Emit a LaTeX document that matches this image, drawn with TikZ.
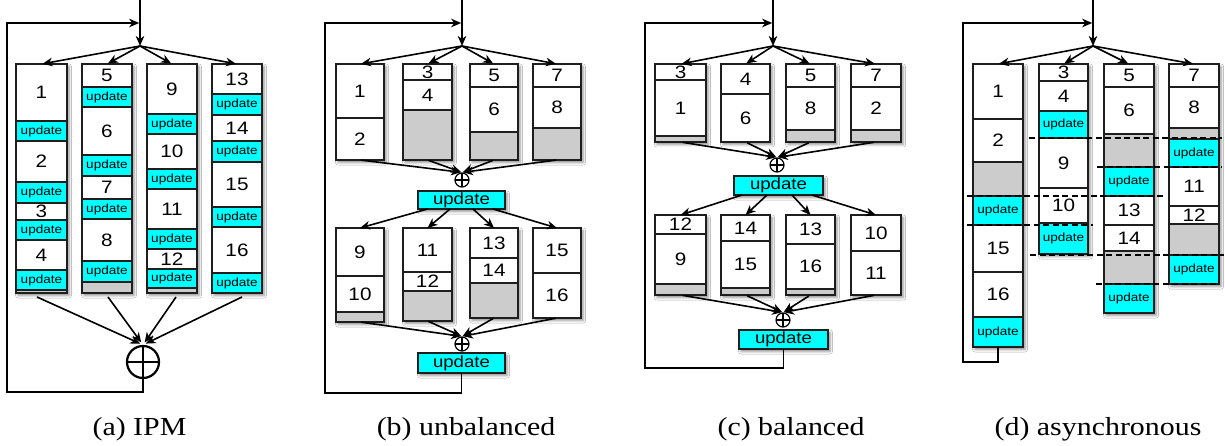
\documentclass[tikz,border=0pt]{standalone}
\usepackage{fontspec}
\usepackage{graphicx}
\setmainfont{Liberation Serif}[FakeStretch=1.15]
\newfontfamily\sansf{Liberation Sans}[FakeStretch=1.15]
\usetikzlibrary{arrows.meta,shadows.blur}
\definecolor{cy}{RGB}{0,255,255}
\definecolor{gr}{RGB}{204,204,204}
\definecolor{bd}{RGB}{30,30,30}
\newcommand\fnum{\sansf\fontsize{18}{18}\selectfont}
\newcommand\fupd{\sansf\fontsize{11.8}{11.8}\selectfont}
\newcommand\fupdb{\sansf\fontsize{16.2}{16.2}\selectfont}
\newcommand\UPD{\fupd update}
\newcommand\mkcell[7]{\pgfmathsetmacro\cw{#3-#2}\pgfmathsetmacro\ch{#5-#4}\node[#6,minimum width=\cw pt,minimum height=\ch pt] (#1) at ({(#2+#3)/2},{(#4+#5)/2}) {#7};}
\newcommand\mkcol[6]{\mkcell{#1}{#2}{#3}{#4}{#5}{colbox}{}%
  \foreach \ya/\yb/\fc/\tx [count=\i] in {#6}{\mkcell{#1s\i}{#2}{#3}{\ya}{\yb}{cellbox,fill=\fc}{\tx}}}
\begin{document}
\begin{tikzpicture}[x=1pt,y=-1pt,
  conn/.style={line width=1.6pt,-{Stealth[length=10pt,width=8.5pt,inset=3pt]}},
  cellbox/.style={draw=bd,line width=1.2pt,inner sep=0pt,outer sep=0pt,font=\fnum},
  colbox/.style={draw=bd,fill=white,line width=1.2pt,inner sep=0pt,outer sep=0pt,
    blur shadow={shadow xshift=2pt,shadow yshift=-2.5pt,shadow blur radius=2.5pt,shadow opacity=45}},
  updbox/.style={colbox,fill=cy,font=\fupdb},
  oplus/.style={circle,draw=black,line width=1.2pt,minimum size=14pt,inner sep=0pt,
    path picture={\draw[line width=1.2pt] (path picture bounding box.north)--(path picture bounding box.south) (path picture bounding box.west)--(path picture bounding box.east);}},
  bigoplus/.style={circle,draw=black,line width=2.2pt,minimum size=32pt,inner sep=0pt,
    path picture={\draw[line width=2.2pt] (path picture bounding box.north)--(path picture bounding box.south) (path picture bounding box.west)--(path picture bounding box.east);}},
  captxt/.style={font=\fontsize{26}{26}\selectfont,anchor=base},
  dsh/.style={line width=1.5pt,dash pattern=on 6pt off 3.5pt}
]
\fill[white] (0,0) rectangle (1225,446);
\useasboundingbox (0,0) rectangle (1225,446);

% ================= (a) IPM =================
\mkcol{a1}{16}{67}{64}{293}{64/121/white/1, 121/141/cy/\UPD, 141/182/white/2, 182/203/cy/\UPD, 203/220/white/3, 220/240/cy/\UPD, 240/270/white/4, 270/290/cy/\UPD, 290/293/gr/{}}
\mkcol{a2}{82}{132}{64}{293}{64/87/white/5, 87/107/cy/\UPD, 107/155/white/6, 155/176/cy/\UPD, 176/199/white/7, 199/219/cy/\UPD, 219/261/white/8, 261/282/cy/\UPD, 282/293/gr/{}}
\mkcol{a3}{147}{197}{64}{293}{64/114/white/9, 114/134/cy/\UPD, 134/169/white/10, 169/189/cy/\UPD, 189/229/white/11, 229/249/cy/\UPD, 249/269/white/12, 269/288/cy/\UPD, 288/293/gr/{}}
\mkcol{a4}{212}{262}{64}{293}{64/94/white/13, 94/115/cy/\UPD, 115/141/white/14, 141/162/cy/\UPD, 162/207/white/15, 207/227/cy/\UPD, 227/273/white/16, 273/293/cy/\UPD}
\coordinate (aTop) at (140,0);
\coordinate (aBr) at (140,46);
\coordinate (aIn) at (139.2,23);
\coordinate (aL) at (7,392);
\draw[conn] (aTop) -- (aBr);
\foreach \c in {a1,a2,a3,a4} \draw[conn,shorten >=1pt] (aBr) -- (\c.north);
\node[bigoplus] (aP) at (143,362) {};
\draw[conn,shorten >=3pt] ([xshift=-4.5pt,yshift=-4pt]a1.south) -- (aP.north);
\draw[conn,shorten >=3pt] ([xshift=1pt,yshift=-4pt]a2.south) -- (aP.north);
\draw[conn,shorten >=3pt] ([xshift=4pt,yshift=-4pt]a3.south) -- (aP.north);
\draw[conn,shorten >=3pt] ([xshift=5pt,yshift=-4pt]a4.south) -- (aP.north);
\draw[conn] (aP.south) |- (aL) |- (aIn);
\node[captxt] (capa) at (139.5,435) {(a) IPM};

% ================= (b) unbalanced =================
\mkcol{b1}{336}{384}{64}{160}{64/118/white/1, 118/160/white/2}
\mkcol{b2}{403}{452}{64}{160}{64/80/white/3, 80/110/white/4, 110/160/gr/{}}
\mkcol{b3}{470}{518}{64}{160}{64/87/white/5, 87/132/white/6, 132/160/gr/{}}
\mkcol{b4}{533}{581}{64}{160}{64/87/white/7, 87/128/white/8, 128/160/gr/{}}
\mkcol{b5}{336}{384}{228}{322}{228/276/white/9, 276/312/white/10, 312/322/gr/{}}
\mkcol{b6}{403}{452}{228}{321}{228/272/white/11, 272/291/white/12, 291/321/gr/{}}
\mkcol{b7}{470}{518}{228}{318}{228/258/white/13, 258/283/white/14, 283/318/gr/{}}
\mkcol{b8}{533}{581}{228}{318}{228/273/white/15, 273/318/white/16}
\coordinate (bTop) at (462,0);
\coordinate (bBr) at (462,46);
\coordinate (bIn) at (461.2,23);
\coordinate (bL) at (325,393);
\draw[conn] (bTop) -- (bBr);
\foreach \c in {b1,b2,b3,b4} \draw[conn,shorten >=1pt] (bBr) -- (\c.north);
\node[oplus] (bP1) at (462,180) {};
\foreach \c in {b1,b2,b3,b4} \draw[conn,shorten <=1pt,shorten >=1pt] (\c.south) -- (bP1.north);
\mkcell{bU1}{418}{505}{191}{209}{updbox}{update}
\draw[conn] ([xshift=-34pt]bU1.south) -- (b5.north);
\draw[conn] ([xshift=-11.5pt]bU1.south) -- (b6.north);
\draw[conn] ([xshift=11.5pt]bU1.south) -- (b7.north);
\draw[conn] ([xshift=31.5pt]bU1.south) -- (b8.north);
\node[oplus] (bP2) at (462,344) {};
\foreach \c in {b5,b6,b7,b8} \draw[conn,shorten <=1pt,shorten >=1pt] (\c.south) -- (bP2.north);
\mkcell{bU2}{418}{505}{353}{373}{updbox}{update}
\draw[conn] (bU2.south) |- (bL) |- (bIn);
\node[captxt] (capb) at (466,435) {(b) unbalanced};

% ================= (c) balanced =================
\mkcol{c1}{655}{706}{64}{142}{64/80/white/3, 80/136/white/1, 136/142/gr/{}}
\mkcol{c2}{721}{770}{64}{142}{64/94/white/4, 94/142/white/6}
\mkcol{c3}{786}{835}{64}{142}{64/87/white/5, 87/130/white/8, 130/142/gr/{}}
\mkcol{c4}{851}{901}{64}{142}{64/87/white/7, 87/130/white/2, 130/142/gr/{}}
\mkcol{c5}{655}{706}{215}{295}{215/234/white/12, 234/284/white/9, 284/295/gr/{}}
\mkcol{c6}{721}{770}{215}{295}{215/241/white/14, 241/288/white/15, 288/295/gr/{}}
\mkcol{c7}{786}{835}{215}{295}{215/244/white/13, 244/289/white/16, 289/295/gr/{}}
\mkcol{c8}{851}{901}{215}{295}{215/251/white/10, 251/295/white/11}
\coordinate (cTop) at (773,0);
\coordinate (cBr) at (773,46);
\coordinate (cIn) at (772.2,23);
\coordinate (cL) at (645,368);
\draw[conn] (cTop) -- (cBr);
\foreach \c in {c1,c2,c3,c4} \draw[conn,shorten >=1pt] (cBr) -- (\c.north);
\node[oplus] (cP1) at (777,165) {};
\foreach \c in {c1,c2,c3,c4} \draw[conn,shorten <=2pt,shorten >=1pt] (\c.south) -- (cP1.north);
\mkcell{cU1}{734}{823}{176}{195}{updbox}{update}
\draw[conn] ([xshift=-36.5pt]cU1.south) -- (c5.north);
\draw[conn] ([xshift=-11.5pt]cU1.south) -- (c6.north);
\draw[conn] ([xshift=13.5pt]cU1.south) -- (c7.north);
\draw[conn] ([xshift=33.5pt]cU1.south) -- (c8.north);
\node[oplus] (cP2) at (783,320) {};
\foreach \c in {c5,c6,c7,c8} \draw[conn,shorten <=2pt,shorten >=1pt] (\c.south) -- (cP2.north);
\mkcell{cU2}{739}{828}{330}{349}{updbox}{update}
\draw[conn] (cU2.south) |- (cL) |- (cIn);
\node[captxt] (capc) at (791,435) {(c) balanced};

% ================= (d) asynchronous =================
\mkcol{d1}{973}{1023}{64}{347}{64/119/white/1, 119/162/white/2, 162/196/gr/{}, 196/225/cy/\UPD, 225/272/white/15, 272/317/white/16, 317/347/cy/\UPD}
\mkcol{d2}{1039}{1088}{64}{254}{64/81/white/3, 81/111/white/4, 111/138/cy/\UPD, 138/188/white/9, 188/223/white/10, 223/254/cy/\UPD}
\mkcol{d3}{1104}{1154}{64}{313}{64/87/white/5, 87/134/white/6, 134/167/gr/{}, 167/196/cy/\UPD, 196/225/white/13, 225/251/white/14, 251/284/gr/{}, 284/313/cy/\UPD}
\mkcol{d4}{1169}{1219}{64}{284}{64/87/white/7, 87/128/white/8, 128/139/gr/{}, 139/167/cy/\UPD, 167/206/white/11, 206/224/white/12, 224/255/gr/{}, 255/284/cy/\UPD}
\draw[dsh] (1029,138) -- (1222,138);
\draw[dsh] (1097,167) -- (1222,167);
\draw[dsh] (967,196) -- (1164,196);
\draw[dsh] (967,225) -- (1093,225);
\draw[dsh] (1030,255) -- (1224,255);
\draw[dsh] (1096,284) -- (1219,284);
\coordinate (dTop) at (1093,0);
\coordinate (dBr) at (1093,46);
\coordinate (dIn) at (1092.2,23);
\coordinate (dL) at (963,362);
\draw[conn] (dTop) -- (dBr);
\foreach \c in {d1,d2,d3,d4} \draw[conn,shorten >=1pt] (dBr) -- (\c.north);
\draw[conn] (d1.south) |- (dL) |- (dIn);
\node[captxt] (capd) at (1098,435) {(d) asynchronous};
\end{tikzpicture}
\end{document}
